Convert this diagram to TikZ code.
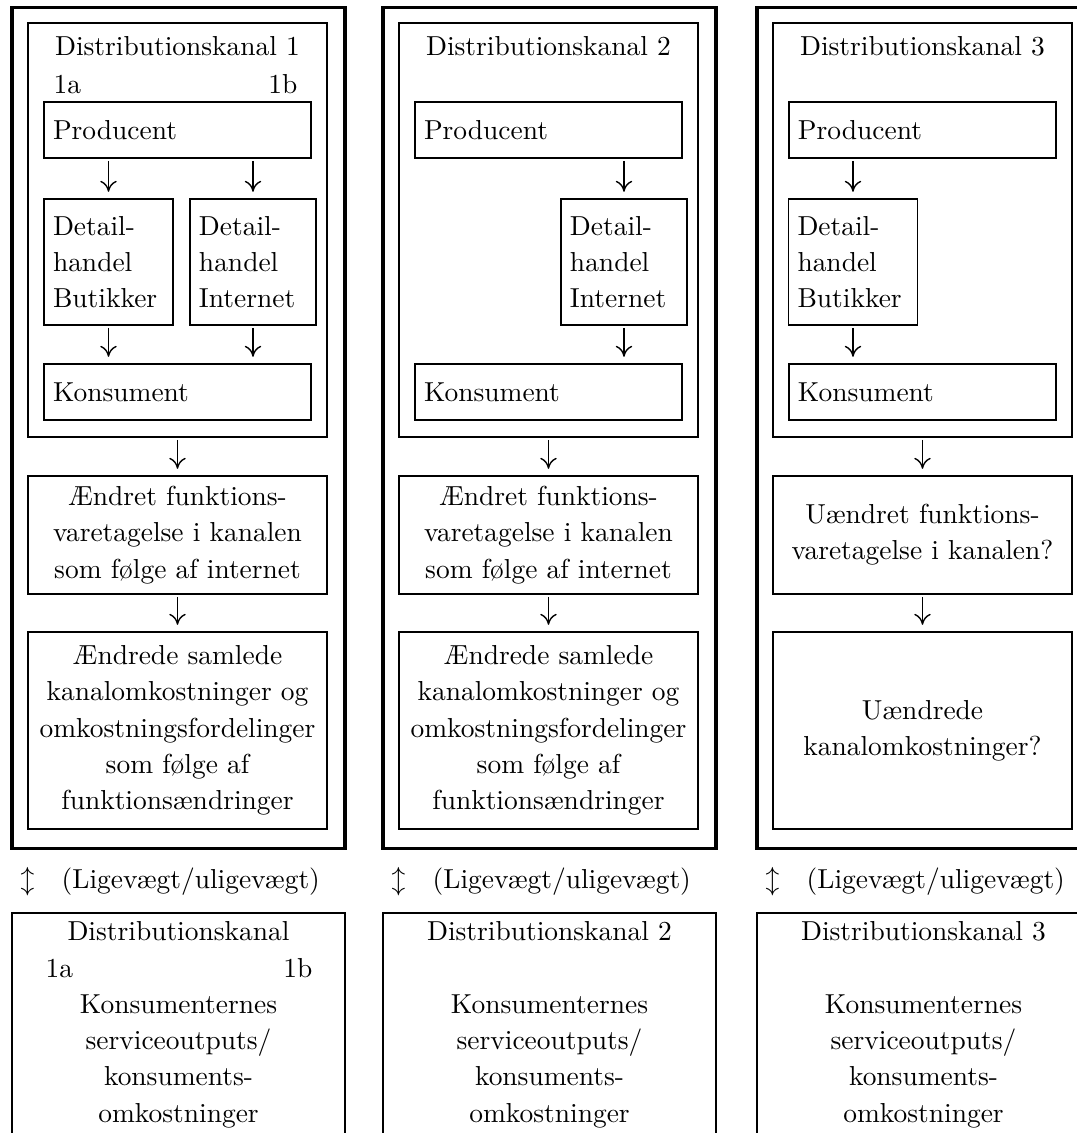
\documentclass[tikz,border=0pt]{standalone}
\usepackage{tikz}
\usetikzlibrary{arrows.meta, positioning}
\newlength{\pxl}
\setlength{\pxl}{0.0128cm}
\tikzset{
	outerbox/.style={draw, line width=1.1pt, inner sep=0pt, minimum width=333\pxl, minimum height=841\pxl},
	innerbox/.style={draw, line width=0.65pt, inner sep=0pt, minimum width=299\pxl, minimum height=414\pxl},
	wide/.style={draw, line width=0.65pt, align=left, inner xsep=9\pxl, inner ysep=0pt, text width=249\pxl, minimum height=56\pxl},
	detail/.style={draw, line width=0.65pt, align=left, inner xsep=9\pxl, inner ysep=0pt, text width=#1, minimum height=126\pxl},
	detail/.default=111\pxl,
	effect/.style={draw, line width=0.65pt, align=center, inner sep=0pt, minimum width=299\pxl, minimum height=#1},
	botbox/.style={draw, line width=0.65pt, inner sep=0pt, minimum width=333\pxl, minimum height=260\pxl, anchor=north},
	txt/.style={inner sep=0pt},
	arr/.style={-{To[length=4pt,width=6pt]}, line width=0.5pt, shorten >=2.3pt, shorten <=0.7pt}
}

\begin{document}
\begin{tikzpicture}[font=\fontsize{10}{13.2}\selectfont, x=0.0128cm, y=-0.0128cm] % x/y in pixels of the original page, y runs downwards
		\path[use as bounding box, clip] (0,0) rectangle (1077,1133);
		\foreach \c/\X/\bt in {1/12/{Distributionskanal}, 2/383/{Distributionskanal 2}, 3/757/{Distributionskanal 3}}{
			\node[outerbox] (out\c) at (\X+166.5,427.5) {};
			\node[innerbox] (in\c) at (\X+165.5,230) {};
			\node[txt, anchor=base] (tit\c) at (\X+165.5,55) {Distributionskanal \c};
			\node[wide] (prod\c) at (\X+165.5,130) {Producent};
			\node[wide] (kons\c) at (\X+165.5,392) {Konsument};
			\node[txt, anchor=base west] (lig\c) at (\X+8,888) {$\updownarrow$\hspace{1em}(Ligevægt/uligevægt)};
			\node[botbox] (bot\c) at (\X+166.5,912) {};
			\node[txt, anchor=base] (bt\c) at (\X+166.5,940) {\bt};
			\node[txt, anchor=north, align=center] (serv\c) at (\X+166.5,994) {Konsumenternes\\serviceoutputs/\\konsuments-\\omkostninger};
		}
		\node[txt, anchor=base west] (a1) at (53,93) {1a};
		\node[txt, anchor=base east] (b1) at (298,93) {1b};
		\node[txt, anchor=base west] (a1u) at (45,977) {1a};
		\node[txt, anchor=base east] (b1u) at (313,977) {1b};
		\node[detail] (det1a) at (108.5,262) {Detail-\\handel\\Butikker};
		\node[detail=108\pxl] (det1b) at (253,262) {Detail-\\handel\\Internet};
		\node[detail=108\pxl] (det2) at (624,262) {Detail-\\handel\\Internet};
		\node[detail] (det3) at (853,262) {Detail-\\handel\\Butikker};
		\node[effect=118\pxl] (aen1) at (177.5,535) {Ændret funktions-\\varetagelse i kanalen\\som følge af internet};
		\node[effect=118\pxl] (aen2) at (548.5,535) {Ændret funktions-\\varetagelse i kanalen\\som følge af internet};
		\node[effect=118\pxl] (aen3) at (922.5,535) {Uændret funktions-\\varetagelse i kanalen?};
		\node[effect=197\pxl] (sam1) at (177.5,730.5) {Ændrede samlede\\kanalomkostninger og\\omkostningsfordelinger\\som følge af\\funktionsændringer};
		\node[effect=197\pxl] (sam2) at (548.5,730.5) {Ændrede samlede\\kanalomkostninger og\\omkostningsfordelinger\\som følge af\\funktionsændringer};
		\node[effect=197\pxl] (sam3) at (922.5,730.5) {Uændrede\\kanalomkostninger?};
		\foreach \c in {1,2,3}{
			\draw[arr] (in\c.south) -- (aen\c.north);
			\draw[arr] (aen\c.south) -- (sam\c.north);
		}
		\foreach \d/\p in {det1a/1, det1b/1, det2/2, det3/3}{
			\draw[arr] (prod\p.south -| \d.north) -- (\d.north);
			\draw[arr] (\d.south) -- (kons\p.north -| \d.south);
		}
	\end{tikzpicture}
\end{document}
